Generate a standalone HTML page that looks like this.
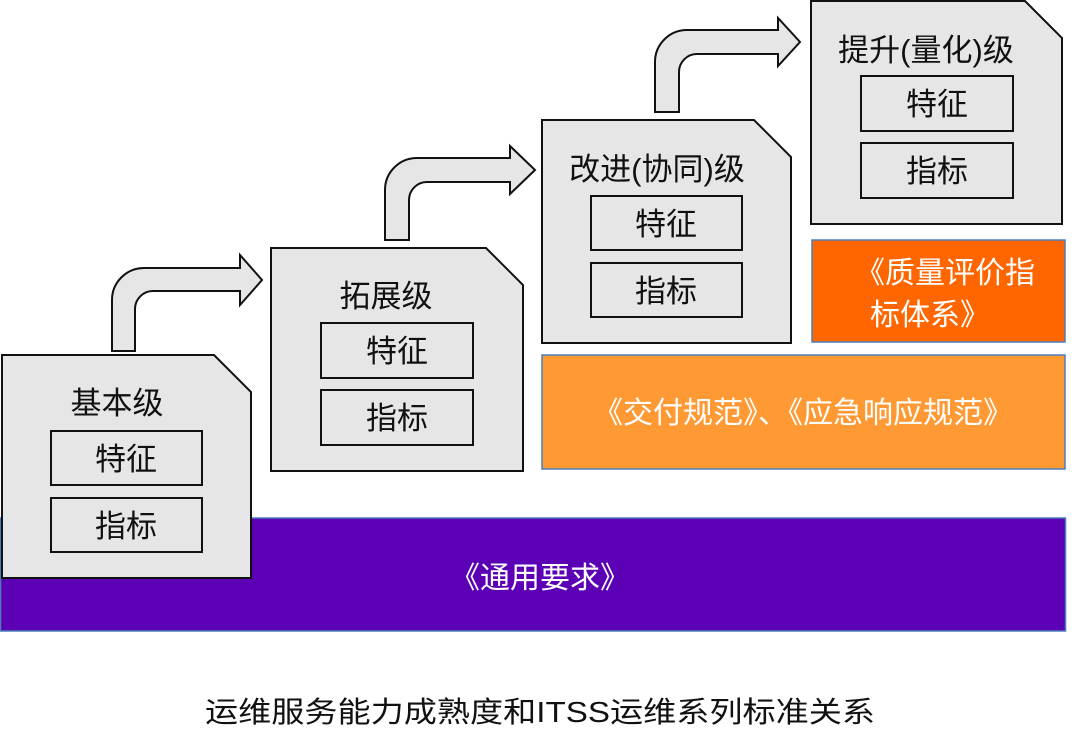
<!DOCTYPE html>
<html><head><meta charset="utf-8"><style>
html,body{margin:0;padding:0;background:#fff;width:1080px;height:752px;overflow:hidden}
svg{display:block}
text{font-family:"Liberation Sans","Noto Sans CJK SC",sans-serif}
</style></head><body>
<svg width="1080" height="752" viewBox="0 0 1080 752" xmlns="http://www.w3.org/2000/svg">
<!-- bands -->
<rect x="0.5" y="518" width="1065" height="113" fill="#5b00b4" stroke="#4a7ebb" stroke-width="1.5"/>
<text x="540" y="588" font-size="30" fill="#fff" text-anchor="middle">《通用要求》</text>
<rect x="542" y="355" width="523" height="114" fill="#ff9933" stroke="#4a7ebb" stroke-width="1.5"/>
<text x="803" y="423" font-size="30" fill="#fff" text-anchor="middle">《交付规范》、《应急响应规范》</text>
<rect x="812" y="240" width="253" height="102" fill="#ff6600" stroke="#4a7ebb" stroke-width="1.5"/>
<text x="945" y="283" font-size="30" fill="#fff" text-anchor="middle">《质量评价指</text>
<text x="930" y="325" font-size="30" fill="#fff" text-anchor="middle">标体系》</text>

<g fill="#e6e6e6" stroke="#111" stroke-width="2">
<!-- arrows -->
<path d="M112,351 V300 A32,32 0 0 1 144,268 H240 V255 L262,280 L240,305 V291 H153 A18,18 0 0 0 135,309 V351 Z"/>
<path d="M385,240 V190 A32,32 0 0 1 417,158 H510 V146 L535,170 L510,194 V182 H427 A18,18 0 0 0 409,200 V240 Z"/>
<path d="M655,112 V62 A32,32 0 0 1 687,30 H778 V18 L800,42 L778,66 V54 H697 A18,18 0 0 0 679,72 V112 Z"/>
<!-- cards -->
<path d="M2,355 H214 L251,392 V578 H2 Z"/>
<rect x="51" y="431" width="151" height="54"/><rect x="51" y="498" width="151" height="54"/>
<path d="M271,248 H486 L523,285 V471 H271 Z"/>
<rect x="321" y="323" width="152" height="55"/><rect x="321" y="390" width="152" height="55"/>
<path d="M542,120 H754 L791,157 V343 H542 Z"/>
<rect x="591" y="196" width="151" height="54"/><rect x="591" y="263" width="151" height="54"/>
<path d="M811,1 H1025 L1062,38 V224 H811 Z"/>
<rect x="861" y="76" width="152" height="55"/><rect x="861" y="143" width="152" height="55"/>
</g>

<g font-size="31" fill="#111" text-anchor="middle">
<text x="117" y="414">基本级</text>
<text x="126" y="470">特征</text><text x="126" y="537">指标</text>
<text x="386" y="307">拓展级</text>
<text x="397" y="362">特征</text><text x="397" y="429">指标</text>
<text x="657" y="180">改进(协同)级</text>
<text x="666" y="235">特征</text><text x="666" y="302">指标</text>
<text x="926" y="61">提升(量化)级</text>
<text x="937" y="115">特征</text><text x="937" y="182">指标</text>
</g>
<text x="205" y="722" font-size="29" fill="#111" textLength="670" lengthAdjust="spacingAndGlyphs">运维服务能力成熟度和ITSS运维系列标准关系</text>
</svg>
</body></html>
